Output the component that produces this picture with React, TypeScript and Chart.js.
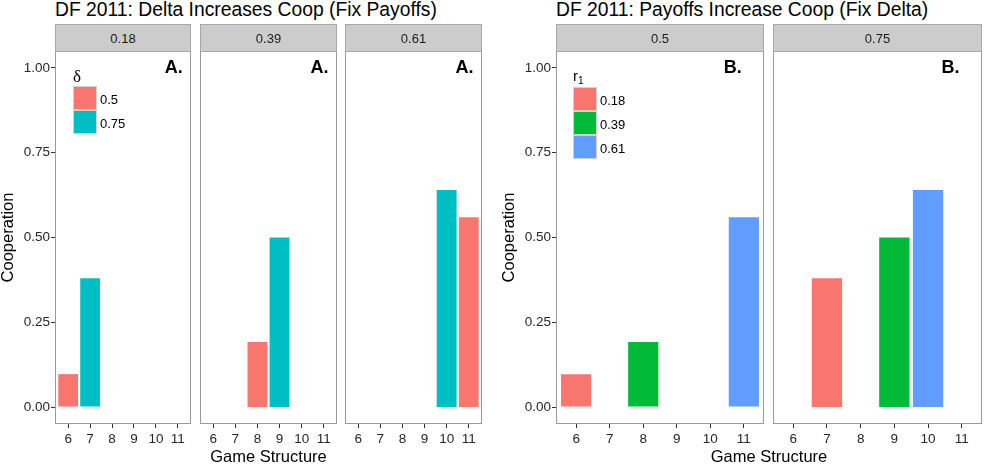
import React, { useEffect, useRef } from "react";
import { Chart, registerables } from "chart.js";

Chart.register(...registerables);

// ---------------- data ----------------
const games = [6, 7, 8, 9, 10, 11];
const coop = [0.097, 0.38, 0.192, 0.5, 0.64, 0.56];
const gameR1 = ["0.18", "0.18", "0.39", "0.39", "0.61", "0.61"];
const gameDelta = ["0.5", "0.75", "0.5", "0.75", "0.75", "0.5"];
const r1Levels = ["0.18", "0.39", "0.61"];
const deltaLevels = ["0.5", "0.75"];
const deltaColors = ["#F8766D", "#00BFC4"];
const r1Colors = ["#F8766D", "#00BA38", "#619CFF"];
const yTicks = [0, 0.25, 0.5, 0.75, 1];
const groupTitles = [
  "DF 2011: Delta Increases Coop (Fix Payoffs)",
  "DF 2011: Payoffs Increase Coop (Fix Delta)",
];
const panelTags = ["A.", "B."];
const xTitle = "Game Structure";
const yTitle = "Cooperation";

// ---------------- layout ----------------
const FONT = '"Liberation Sans", Arial, Helvetica, sans-serif';
const PANEL_TOP = 51;
const PANEL_BOTTOM = 424;
const PAD_TOP = 10;
const XAXIS_H = 30;
const YAXIS_W = 55;
const PAD_SIDE = 5;

Chart.defaults.font.family = FONT;

type Key = "r1" | "delta";
type Spec = {
  left: number;
  width: number;
  showY: boolean;
  facetBy: Key;
  facetVal: string;
  fillBy: Key;
  fillLevels: string[];
  fillColors: string[];
  tag: string;
};

const levelOf = (key: Key, i: number) => (key === "r1" ? gameR1[i] : gameDelta[i]);

const leftPanelsX = [
  [55, 136],
  [200, 137],
  [345, 137],
];
const rightPanelsX = [
  [556, 208],
  [773, 209],
];

const specs: Spec[] = [
  ...r1Levels.map((v, k) => ({
    left: leftPanelsX[k][0],
    width: leftPanelsX[k][1],
    showY: k === 0,
    facetBy: "r1" as Key,
    facetVal: v,
    fillBy: "delta" as Key,
    fillLevels: deltaLevels,
    fillColors: deltaColors,
    tag: panelTags[0],
  })),
  ...deltaLevels.map((v, k) => ({
    left: rightPanelsX[k][0],
    width: rightPanelsX[k][1],
    showY: k === 0,
    facetBy: "delta" as Key,
    facetVal: v,
    fillBy: "r1" as Key,
    fillLevels: r1Levels,
    fillColors: r1Colors,
    tag: panelTags[1],
  })),
];

function Panel({ spec }: { spec: Spec }) {
  const ref = useRef<HTMLCanvasElement>(null);
  const canvasLeft = spec.showY ? spec.left - YAXIS_W : spec.left - PAD_SIDE;
  const canvasW = spec.width + PAD_SIDE + (spec.showY ? YAXIS_W : PAD_SIDE);
  const canvasTop = PANEL_TOP - PAD_TOP;
  const canvasH = PAD_TOP + (PANEL_BOTTOM - PANEL_TOP) + XAXIS_H;

  useEffect(() => {
    const datasets = spec.fillLevels.map((lvl, k) => ({
      label: lvl,
      data: games
        .map((g, i) => ({ g, i }))
        .filter(
          ({ i }) =>
            levelOf(spec.facetBy, i) === spec.facetVal &&
            levelOf(spec.fillBy, i) === lvl
        )
        .map(({ g, i }) => ({ x: g, y: coop[i] })),
      backgroundColor: spec.fillColors[k],
      borderWidth: 0,
      grouped: false,
      barPercentage: 0.9,
      categoryPercentage: 1,
    }));

    const frame = {
      id: "frame",
      afterDatasetsDraw(chart: any) {
        const { ctx, chartArea: a } = chart;
        ctx.save();
        ctx.strokeStyle = "#9a9a9a";
        ctx.lineWidth = 1;
        ctx.strokeRect(a.left + 0.5, a.top + 0.5, a.right - a.left - 1, a.bottom - a.top - 1);
        ctx.restore();
      },
    };
    const tag = {
      id: "tag",
      afterDatasetsDraw(chart: any) {
        const { ctx, scales } = chart;
        ctx.save();
        ctx.font = `bold 18px ${FONT}`;
        ctx.fillStyle = "#000";
        ctx.textAlign = "left";
        ctx.textBaseline = "middle";
        ctx.fillText(spec.tag, scales.x.getPixelForValue(10.4), scales.y.getPixelForValue(1));
        ctx.restore();
      },
    };

    const chart = new Chart(ref.current as HTMLCanvasElement, {
      type: "bar",
      data: { datasets } as any,
      options: {
        animation: false,
        responsive: true,
        maintainAspectRatio: false,
        layout: {
          padding: {
            top: PAD_TOP,
            bottom: 0,
            left: spec.showY ? 0 : PAD_SIDE,
            right: PAD_SIDE,
          },
        },
        plugins: { legend: { display: false }, tooltip: { enabled: false } },
        scales: {
          x: {
            type: "linear",
            min: 5.4,
            max: 11.6,
            bounds: "data",
            offset: false,
            afterBuildTicks: (s: any) => {
              s.ticks = games.map((v) => ({ value: v }));
            },
            afterFit: (s: any) => {
              s.height = XAXIS_H;
            },
            grid: {
              display: true,
              drawOnChartArea: false,
              drawTicks: true,
              tickLength: 4,
              tickColor: "#333",
              offset: false,
            },
            border: { display: false },
            ticks: {
              font: { size: 13.5 },
              color: "#262626",
              padding: 3,
              maxRotation: 0,
              autoSkip: false,
              callback: (v: any) => String(v),
            },
          },
          y: {
            type: "linear",
            min: -0.05,
            max: 1.05,
            bounds: "data",
            display: spec.showY,
            afterBuildTicks: (s: any) => {
              s.ticks = yTicks.map((v) => ({ value: v }));
            },
            afterFit: (s: any) => {
              s.width = spec.showY ? YAXIS_W : 0;
            },
            grid: {
              display: true,
              drawOnChartArea: false,
              drawTicks: true,
              tickLength: 4,
              tickColor: "#333",
            },
            border: { display: false },
            ticks: {
              font: { size: 13.5 },
              color: "#262626",
              padding: 1,
              callback: (v: any) => Number(v).toFixed(2),
            },
            title: {
              display: true,
              text: yTitle,
              color: "#000",
              font: { size: 16.5, lineHeight: 1.05 },
              padding: 0,
            },
          },
        },
      } as any,
      plugins: [frame, tag],
    });
    return () => chart.destroy();
  }, []);

  return (
    <div
      style={{
        position: "absolute",
        left: canvasLeft,
        top: canvasTop,
        width: canvasW,
        height: canvasH,
      }}
    >
      <canvas ref={ref} />
    </div>
  );
}

function Strip({ spec }: { spec: Spec }) {
  return (
    <div
      style={{
        position: "absolute",
        left: spec.left,
        top: 24,
        width: spec.width,
        height: 28,
        boxSizing: "border-box",
        background: "#CCCCCC",
        border: "1px solid #a8a8a8",
        color: "#1a1a1a",
        fontSize: 13,
        display: "flex",
        alignItems: "center",
        justifyContent: "center",
        lineHeight: "13px",
      }}
    >
      {spec.facetVal}
    </div>
  );
}

function Legend({
  left,
  top,
  title,
  levels,
  colors,
}: {
  left: number;
  top: number;
  title: React.ReactNode;
  levels: string[];
  colors: string[];
}) {
  return (
    <div style={{ position: "absolute", left, top, color: "#000" }}>
      <div style={{ height: 22, position: "relative" }}>{title}</div>
      {levels.map((lvl, k) => (
        <div key={lvl} style={{ display: "flex", alignItems: "center", height: 24 }}>
          <div
            style={{
              width: 24,
              height: 24,
              boxSizing: "border-box",
              background: colors[k],
              border: "1.5px solid #d0d0d0",
            }}
          />
          <div style={{ fontSize: 13, marginLeft: 3, lineHeight: "13px", marginTop: 2 }}>{lvl}</div>
        </div>
      ))}
    </div>
  );
}

export default function App() {
  const textBase: React.CSSProperties = { position: "absolute", whiteSpace: "nowrap" };
  return (
    <div
      style={{
        position: "fixed",
        left: 0,
        top: 0,
        width: 984,
        height: 467,
        background: "#fff",
        fontFamily: FONT,
        overflow: "hidden",
      }}
    >
      <div style={{ ...textBase, left: 55, top: 0, fontSize: 19.3, lineHeight: "19.3px" }}>
        {groupTitles[0]}
      </div>
      <div style={{ ...textBase, left: 556, top: 0, fontSize: 19.3, lineHeight: "19.3px" }}>
        {groupTitles[1]}
      </div>

      {specs.map((s, i) => (
        <Panel key={i} spec={s} />
      ))}
      {specs.map((s, i) => (
        <Strip key={"s" + i} spec={s} />
      ))}

      <Legend
        left={73}
        top={64}
        title={
          <span style={{ fontFamily: '"Liberation Serif", "DejaVu Serif", serif', fontSize: 17, lineHeight: "17px", position: "absolute", top: 4 }}>
            δ
          </span>
        }
        levels={deltaLevels}
        colors={deltaColors}
      />
      <Legend
        left={573}
        top={65}
        title={
          <span style={{ fontSize: 15, lineHeight: "15px", position: "absolute", top: 3 }}>
            r<sub style={{ fontSize: 10, verticalAlign: "-3px" }}>1</sub>
          </span>
        }
        levels={r1Levels}
        colors={r1Colors}
      />

      <div
        style={{
          ...textBase,
          left: 55,
          width: 427,
          textAlign: "center",
          top: 447.7,
          fontSize: 16.5,
          lineHeight: "16.5px",
        }}
      >
        {xTitle}
      </div>
      <div
        style={{
          ...textBase,
          left: 556,
          width: 426,
          textAlign: "center",
          top: 447.7,
          fontSize: 16.5,
          lineHeight: "16.5px",
        }}
      >
        {xTitle}
      </div>
    </div>
  );
}
